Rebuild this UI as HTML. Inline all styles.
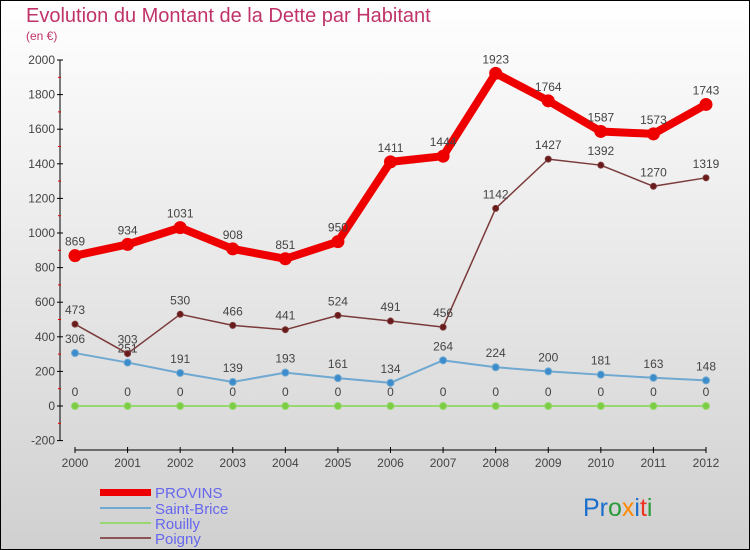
<!DOCTYPE html>
<html><head><meta charset="utf-8"><style>
body{margin:0}
svg{display:block;font-family:"Liberation Sans","DejaVu Sans",sans-serif}
</style></head><body>
<svg width="750" height="550" xmlns="http://www.w3.org/2000/svg">
<defs><linearGradient id="bg" x1="0" y1="0" x2="0" y2="1"><stop offset="0" stop-color="#ffffff"/><stop offset="1" stop-color="#d0d0d0"/></linearGradient></defs>
<rect x="0.5" y="0.5" width="749" height="549" fill="url(#bg)" stroke="#000"/>
<text x="26" y="22" font-size="20" fill="#c0336a">Evolution du Montant de la Dette par Habitant</text>
<text x="26" y="40" font-size="12" fill="#c0336a">(en €)</text>
<g id="axes"></g><g id="series"></g>
<g>
<rect x="100" y="489" width="51" height="7" fill="#ee0000"/>
<text x="155" y="498" font-size="15" fill="#6666ee">PROVINS</text>
<rect x="100" y="507" width="51" height="2" fill="#6fa8d0"/>
<text x="155" y="514" font-size="15" fill="#6666ee">Saint-Brice</text>
<rect x="100" y="522" width="51" height="2" fill="#99d870"/>
<text x="155" y="529" font-size="15" fill="#6666ee">Rouilly</text>
<rect x="100" y="537" width="51" height="2" fill="#8b5555"/>
<text x="155" y="544" font-size="15" fill="#6666ee">Poigny</text>
</g>
<text x="583" y="516" font-size="25"><tspan fill="#1a6fcc">Pr</tspan><tspan fill="#2a9a3a">o</tspan><tspan fill="#ff8800">x</tspan><tspan fill="#1a6fcc">i</tspan><tspan fill="#ee3322">t</tspan><tspan fill="#2a9a3a">i</tspan></text>
</svg>
<script>
const years=[2000,2001,2002,2003,2004,2005,2006,2007,2008,2009,2010,2011,2012];
const provins=[869,934,1031,908,851,950,1411,1444,1923,1764,1587,1573,1743];
const saintBrice=[306,251,191,139,193,161,134,264,224,200,181,163,148];
const rouilly=[0,0,0,0,0,0,0,0,0,0,0,0,0];
const poigny=[473,303,530,466,441,524,491,456,1142,1427,1392,1270,1319];
const yTicks=[-200,0,200,400,600,800,1000,1200,1400,1600,1800,2000];
const NS="http://www.w3.org/2000/svg";
const X=i=>75+i*(706-75)/(years.length-1);
const Y=v=>406-v*(406-60)/2000;
function mk(t,a,p){const e=document.createElementNS(NS,t);for(const k in a)e.setAttribute(k,a[k]);p.appendChild(e);return e;}
const ax=document.getElementById('axes');
let l=mk('line',{x1:60,y1:Y(2000),x2:60,y2:Y(-200),stroke:'#000'},ax);


yTicks.forEach((v,i)=>{
 const t=mk('line',{x1:57,x2:63,y1:Y(v),y2:Y(v),stroke:'#000'},ax);
 
 
 const tx=mk('text',{x:55,y:Y(v)+4,'text-anchor':'end','font-size':12,fill:'#444'},ax);
 tx.textContent=v;
 
 
 if(i<yTicks.length-1){const m=mk('line',{x1:58,x2:61,y1:Y(v+100),y2:Y(v+100),stroke:'#e00'},ax);
 
 }
});
l=mk('line',{x1:X(0),y1:450,x2:X(years.length-1),y2:450,stroke:'#000'},ax);


years.forEach((y,i)=>{
 const t=mk('line',{x1:X(i),x2:X(i),y1:447,y2:453,stroke:'#000'},ax);
 
 
 const tx=mk('text',{x:X(i),y:467,'text-anchor':'middle','font-size':12,fill:'#444'},ax);
 tx.textContent=y;
 
 
});
const sg=document.getElementById('series');
function series(name,vals,color,w,r,dot){
 const g=mk('g',{},sg);
 
 
 const p=mk('polyline',{points:vals.map((v,i)=>X(i)+','+Y(v)).join(' '),fill:'none',stroke:color,'stroke-width':w,'stroke-linejoin':'round'},g);
 
 
 vals.forEach((v,i)=>{
  const c=mk('circle',{cx:X(i),cy:Y(v),r:r,fill:dot,stroke:color,'stroke-width':1},g);
  
  
  const t=mk('text',{x:X(i),y:Y(v)-10,'text-anchor':'middle','font-size':12,fill:'#444'},g);
  t.textContent=v;
  
  
 });
}
series('rouilly',rouilly,'#99d870',2,3.5,'#7ccc44');
series('saint-brice',saintBrice,'#6fa8d0',2,3.5,'#3c8ccc');
series('poigny',poigny,'#7a3a3a',1.5,3,'#6a1a1a');
series('provins',provins,'#ee0000',8,6,'#ee0000');
</script>
</body></html>
